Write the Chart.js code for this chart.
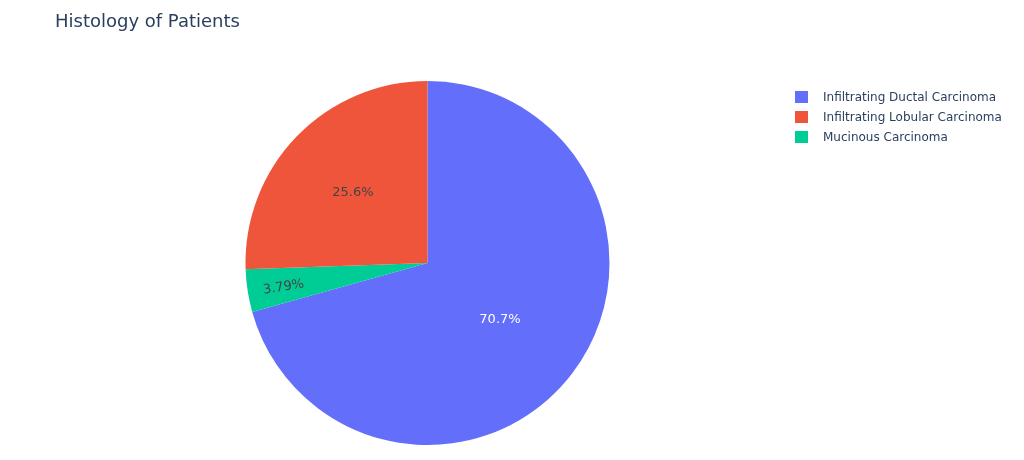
<!DOCTYPE html>
<html>
<head>
<meta charset="utf-8">
<script src="https://cdn.jsdelivr.net/npm/chart.js@4"></script>
<style>
  body { margin: 0; background: #fff; font-family: "DejaVu Sans", Verdana, sans-serif; }
  #wrap { position: relative; width: 1024px; height: 460px; }
  #title { position: absolute; left: 55px; top: 10px; font-size: 18px; color: #2a3f5f; white-space: nowrap; }
  #legend { position: absolute; left: 795px; top: 87px; font-size: 12px; color: #2a3f5f; }
  .row { display: flex; align-items: center; height: 20px; white-space: nowrap; }
  .sw { width: 13px; height: 12px; margin-right: 15px; }
</style>
</head>
<body>
<div id="wrap">
  <canvas id="pieChart" width="1024" height="460"></canvas>
  <div id="title">Histology of Patients</div>
  <div id="legend"></div>
</div>
<script>
// datos
const categories = ['Infiltrating Ductal Carcinoma', 'Infiltrating Lobular Carcinoma', 'Mucinous Carcinoma'];
const counts = [224, 81, 12];
const colors = ['#636efa', '#EF553B', '#00cc96'];
// plotly dibuja en sentido antihorario, asi que en sentido horario queda Ductal, Mucinous, Lobular
const sliceOrder = [0, 2, 1];

const total = counts.reduce((a, b) => a + b, 0);
const textColors = ['#ffffff', '#444444', '#444444'];
const labelRadius = { 0: 0.5, 1: 0.57, 2: 0.8 };

// leyenda html
const legend = document.getElementById('legend');
categories.forEach((c, i) => {
  const row = document.createElement('div');
  row.className = 'row';
  row.innerHTML = `<div class="sw" style="background:${colors[i]}"></div><span>${c}</span>`;
  legend.appendChild(row);
});

// etiquetas de porcentaje dentro de cada porcion
const pctLabels = {
  id: 'pctLabels',
  afterDatasetsDraw(chart) {
    const ctx = chart.ctx;
    const meta = chart.getDatasetMeta(0);
    meta.data.forEach((arc, j) => {
      const i = sliceOrder[j];
      const mid = (arc.startAngle + arc.endAngle) / 2;
      const r = arc.outerRadius * labelRadius[i];
      const x = arc.x + Math.cos(mid) * r;
      const y = arc.y + Math.sin(mid) * r + 2;
      const pct = (counts[i] / total * 100).toPrecision(3) + '%';
      ctx.save();
      ctx.translate(x, y);
      if (counts[i] / total < 0.1) ctx.rotate(mid - Math.PI);
      ctx.font = '13px "DejaVu Sans", Verdana, sans-serif';
      ctx.fillStyle = textColors[i];
      ctx.textAlign = 'center';
      ctx.textBaseline = 'middle';
      ctx.fillText(pct, 0, 0);
      ctx.restore();
    });
  }
};

new Chart(document.getElementById('pieChart'), {
  type: 'pie',
  data: {
    labels: sliceOrder.map(i => categories[i]),
    datasets: [{
      data: sliceOrder.map(i => counts[i]),
      backgroundColor: sliceOrder.map(i => colors[i]),
      borderWidth: 0
    }]
  },
  options: {
    responsive: false,
    animation: false,
    layout: { padding: { left: 245, right: 414, top: 81, bottom: 15 } },
    plugins: {
      legend: { display: false },
      title: { display: false },
      tooltip: { callbacks: { label: (c) => ` ${c.label}: ${c.raw}` } }
    }
  },
  plugins: [pctLabels]
});
</script>
</body>
</html>
